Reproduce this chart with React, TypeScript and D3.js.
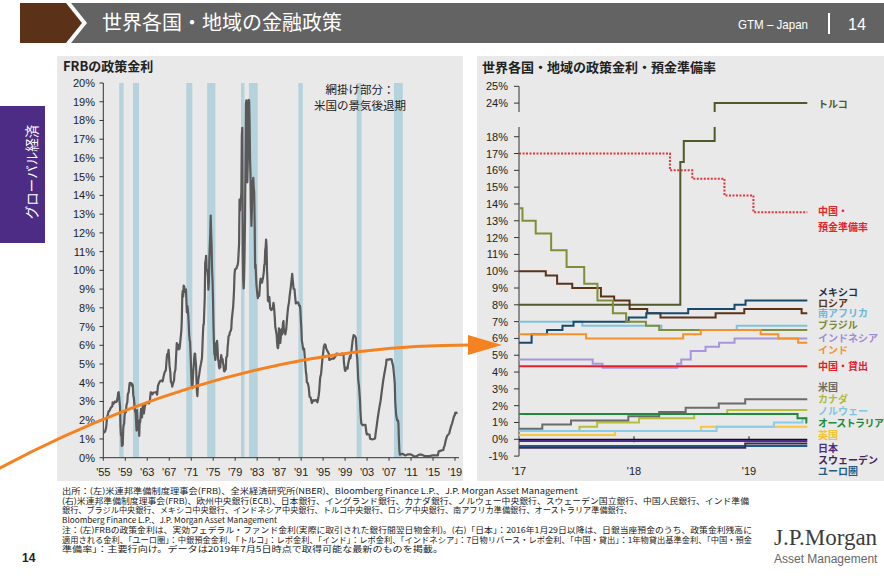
import * as d3 from "d3";

const SANS = "'Liberation Sans', Arial, 'Noto Sans CJK JP', sans-serif";
const JP = "'Noto Sans CJK JP', 'Liberation Sans', sans-serif";
const PANEL = "#e9e9e9";

// ---------- left: FRB policy rate (effective fed funds, %) [year, month, rate]
const ffr: [number, number, number][] = [
  [1955,1,1.39],[1955,3,1.35],[1955,5,1.43],[1955,7,1.68],[1955,8,1.96],[1955,9,2.18],[1955,11,2.35],[1955,12,2.48],
  [1956,2,2.5],[1956,4,2.62],[1956,6,2.71],[1956,8,2.73],[1956,9,2.95],[1956,11,2.88],[1956,12,2.94],
  [1957,2,3.0],[1957,4,2.96],[1957,6,3.0],[1957,8,3.24],[1957,9,3.47],[1957,10,3.5],[1957,11,3.28],[1957,12,2.98],
  [1958,1,2.72],[1958,2,1.67],[1958,3,1.2],[1958,4,1.26],[1958,5,0.63],[1958,6,0.93],[1958,7,0.68],[1958,8,1.53],[1958,9,1.76],[1958,10,1.8],[1958,11,2.27],[1958,12,2.42],
  [1959,2,2.43],[1959,3,2.8],[1959,5,2.96],[1959,6,3.39],[1959,8,3.5],[1959,9,3.76],[1959,10,3.98],[1959,12,3.99],
  [1960,2,3.97],[1960,3,3.84],[1960,4,3.92],[1960,5,3.85],[1960,6,3.32],[1960,7,3.23],[1960,8,2.98],[1960,9,2.6],[1960,10,2.47],[1960,11,2.44],[1960,12,1.98],
  [1961,1,1.45],[1961,2,2.54],[1961,3,2.02],[1961,4,1.49],[1961,5,1.98],[1961,6,1.73],[1961,7,1.17],[1961,8,2.0],[1961,9,1.88],[1961,10,2.26],[1961,11,2.61],[1961,12,2.33],
  [1962,1,2.15],[1962,3,2.85],[1962,5,2.36],[1962,7,2.71],[1962,9,2.9],[1962,11,2.94],
  [1963,1,2.92],[1963,4,2.9],[1963,6,2.99],[1963,8,3.49],[1963,10,3.48],[1963,12,3.38],
  [1964,2,3.48],[1964,5,3.48],[1964,8,3.5],[1964,10,3.36],[1964,12,3.85],
  [1965,2,3.98],[1965,5,4.1],[1965,8,4.12],[1965,10,4.07],[1965,12,4.32],
  [1966,1,4.42],[1966,3,4.6],[1966,5,4.65],[1966,7,5.3],[1966,8,5.53],[1966,9,5.4],[1966,11,5.76],[1966,12,5.4],
  [1967,1,4.94],[1967,3,4.53],[1967,4,4.05],[1967,6,3.98],[1967,7,3.79],[1967,9,3.99],[1967,11,4.12],[1967,12,4.51],
  [1968,2,4.71],[1968,4,5.66],[1968,5,6.12],[1968,6,6.07],[1968,8,6.03],[1968,9,5.78],[1968,11,5.82],[1968,12,6.02],
  [1969,1,6.3],[1969,3,6.79],[1969,4,7.41],[1969,5,8.67],[1969,6,8.9],[1969,7,8.61],[1969,8,9.19],[1969,9,9.15],[1969,11,8.85],[1969,12,8.97],
  [1970,1,8.98],[1970,3,7.76],[1970,4,8.1],[1970,5,7.95],[1970,6,7.61],[1970,7,7.21],[1970,8,6.61],[1970,9,6.29],[1970,10,6.2],[1970,11,5.6],[1970,12,4.9],
  [1971,1,4.14],[1971,2,3.72],[1971,3,3.71],[1971,4,4.16],[1971,5,4.63],[1971,6,4.91],[1971,7,5.31],[1971,8,5.56],[1971,9,5.55],[1971,10,5.2],[1971,11,4.91],[1971,12,4.14],
  [1972,1,3.5],[1972,2,3.29],[1972,3,3.83],[1972,4,4.17],[1972,6,4.46],[1972,8,4.8],[1972,10,5.04],[1972,12,5.33],
  [1973,1,5.94],[1973,2,6.58],[1973,3,7.09],[1973,4,7.12],[1973,5,7.84],[1973,6,8.49],[1973,7,10.4],[1973,8,10.5],[1973,9,10.78],[1973,10,10.01],[1973,11,10.03],[1973,12,9.95],
  [1974,1,9.65],[1974,2,8.97],[1974,3,9.35],[1974,4,10.51],[1974,5,11.31],[1974,6,11.93],[1974,7,12.92],[1974,8,12.01],[1974,9,11.34],[1974,10,10.06],[1974,11,9.45],[1974,12,8.53],
  [1975,1,7.13],[1975,2,6.24],[1975,3,5.54],[1975,4,5.49],[1975,5,5.22],[1975,6,5.55],[1975,7,6.1],[1975,8,6.14],[1975,9,6.24],[1975,10,5.82],[1975,11,5.22],[1975,12,5.2],
  [1976,1,4.87],[1976,2,4.77],[1976,3,4.84],[1976,4,4.82],[1976,5,5.29],[1976,6,5.48],[1976,7,5.31],[1976,8,5.29],[1976,9,5.25],[1976,10,5.02],[1976,11,4.95],[1976,12,4.65],
  [1977,1,4.61],[1977,3,4.69],[1977,4,4.73],[1977,5,5.35],[1977,6,5.39],[1977,7,5.42],[1977,8,5.9],[1977,9,6.14],[1977,10,6.47],[1977,12,6.56],
  [1978,1,6.7],[1978,3,6.79],[1978,4,6.89],[1978,5,7.36],[1978,6,7.6],[1978,7,7.81],[1978,8,8.04],[1978,9,8.45],[1978,10,8.96],[1978,11,9.76],[1978,12,10.03],
  [1979,1,10.07],[1979,3,10.09],[1979,5,10.24],[1979,6,10.29],[1979,7,10.47],[1979,8,10.94],[1979,9,11.43],[1979,10,13.77],[1979,11,13.18],[1979,12,13.78],
  [1980,1,13.82],[1980,2,14.13],[1980,3,17.19],[1980,4,17.61],[1980,5,10.98],[1980,6,9.47],[1980,7,9.03],[1980,8,9.61],[1980,9,10.87],[1980,10,12.81],[1980,11,15.85],[1980,12,18.9],
  [1981,1,19.08],[1981,2,15.93],[1981,3,14.7],[1981,4,15.72],[1981,5,18.52],[1981,6,19.1],[1981,7,19.04],[1981,8,17.82],[1981,9,15.87],[1981,10,15.08],[1981,11,13.31],[1981,12,12.37],
  [1982,1,13.22],[1982,2,14.78],[1982,3,14.68],[1982,4,14.94],[1982,5,14.45],[1982,6,14.15],[1982,7,12.59],[1982,8,10.12],[1982,9,10.31],[1982,10,9.71],[1982,11,9.2],[1982,12,8.95],
  [1983,1,8.68],[1983,2,8.51],[1983,3,8.77],[1983,5,8.63],[1983,6,8.98],[1983,7,9.37],[1983,8,9.56],[1983,10,9.48],[1983,11,9.34],[1983,12,9.47],
  [1984,1,9.56],[1984,3,9.91],[1984,4,10.29],[1984,5,10.32],[1984,6,11.06],[1984,7,11.23],[1984,8,11.64],[1984,9,11.3],[1984,10,9.99],[1984,11,9.43],[1984,12,8.38],
  [1985,1,8.35],[1985,2,8.5],[1985,3,8.58],[1985,4,8.27],[1985,5,7.97],[1985,7,7.88],[1985,9,7.92],[1985,11,8.05],[1985,12,8.27],
  [1986,1,8.14],[1986,3,7.48],[1986,4,6.99],[1986,5,6.85],[1986,7,6.56],[1986,8,6.17],[1986,9,5.89],[1986,10,5.85],[1986,11,6.04],[1986,12,6.91],
  [1987,1,6.43],[1987,3,6.13],[1987,4,6.37],[1987,5,6.85],[1987,7,6.58],[1987,9,7.22],[1987,10,7.29],[1987,11,6.69],[1987,12,6.77],
  [1988,1,6.83],[1988,2,6.58],[1988,4,6.87],[1988,6,7.51],[1988,8,8.01],[1988,10,8.3],[1988,12,8.76],
  [1989,2,9.12],[1989,3,9.36],[1989,5,9.81],[1989,6,9.53],[1989,8,9.02],[1989,10,8.99],[1989,12,8.45],
  [1990,1,8.23],[1990,3,8.28],[1990,6,8.29],[1990,8,8.13],[1990,10,8.11],[1990,11,7.81],[1990,12,7.31],
  [1991,1,6.91],[1991,2,6.25],[1991,3,6.12],[1991,5,5.78],[1991,7,5.82],[1991,9,5.22],[1991,11,4.56],[1991,12,4.43],
  [1992,1,4.03],[1992,3,3.98],[1992,5,3.76],[1992,7,3.25],[1992,9,3.22],[1992,12,2.92],
  [1993,3,3.07],[1993,6,3.04],[1993,9,3.09],[1993,12,2.96],
  [1994,1,3.05],[1994,3,3.34],[1994,4,3.56],[1994,6,4.25],[1994,8,4.47],[1994,9,4.73],[1994,11,5.29],[1994,12,5.45],
  [1995,2,5.92],[1995,4,6.05],[1995,6,6.0],[1995,7,5.85],[1995,9,5.74],[1995,12,5.6],
  [1996,1,5.56],[1996,2,5.22],[1996,6,5.27],[1996,9,5.3],[1996,12,5.29],
  [1997,3,5.39],[1997,6,5.56],[1997,9,5.54],[1997,12,5.5],
  [1998,3,5.49],[1998,6,5.56],[1998,9,5.51],[1998,10,5.07],[1998,12,4.68],
  [1999,1,4.63],[1999,3,4.81],[1999,6,4.76],[1999,7,4.99],[1999,9,5.22],[1999,11,5.42],[1999,12,5.3],
  [2000,1,5.45],[2000,3,5.85],[2000,5,6.27],[2000,7,6.54],[2000,9,6.52],[2000,12,6.4],
  [2001,1,5.98],[2001,2,5.49],[2001,3,5.31],[2001,4,4.8],[2001,5,4.21],[2001,7,3.77],[2001,9,3.07],[2001,10,2.49],[2001,11,2.09],[2001,12,1.82],
  [2002,3,1.73],[2002,6,1.75],[2002,9,1.75],[2002,11,1.34],[2002,12,1.24],
  [2003,3,1.25],[2003,6,1.22],[2003,7,1.01],[2003,12,0.98],
  [2004,3,1.0],[2004,6,1.03],[2004,7,1.26],[2004,9,1.61],[2004,12,2.16],
  [2005,3,2.63],[2005,6,3.04],[2005,9,3.62],[2005,12,4.16],
  [2006,3,4.59],[2006,6,4.99],[2006,7,5.24],[2006,12,5.24],
  [2007,3,5.26],[2007,6,5.25],[2007,8,5.02],[2007,9,4.94],[2007,10,4.76],[2007,12,4.24],
  [2008,1,3.94],[2008,2,2.98],[2008,3,2.61],[2008,4,2.28],[2008,6,2.0],[2008,8,2.0],[2008,9,1.81],[2008,10,0.97],[2008,11,0.39],[2008,12,0.16],
  [2009,6,0.21],[2009,12,0.12],[2010,6,0.18],[2010,12,0.18],[2011,6,0.09],[2011,12,0.07],
  [2012,6,0.16],[2012,12,0.16],[2013,6,0.09],[2013,12,0.09],[2014,6,0.1],[2014,12,0.12],
  [2015,6,0.13],[2015,11,0.12],[2015,12,0.24],[2016,1,0.34],[2016,6,0.38],[2016,11,0.41],[2016,12,0.54],
  [2017,2,0.66],[2017,4,0.9],[2017,7,1.15],[2017,12,1.3],
  [2018,1,1.41],[2018,4,1.69],[2018,6,1.82],[2018,7,1.91],[2018,10,2.19],[2018,12,2.27],
  [2019,1,2.4],[2019,3,2.41],[2019,5,2.38],[2019,6,2.38],
];

// US recessions as shaded in the picture (decimal years)
const recessions: [number, number][] = [
  [1957.9, 1958.7], [1960.4, 1961.5], [1970.1, 1971.2], [1973.9, 1975.4],
  [1980.06, 1980.7], [1981.5, 1983.1], [1990.5, 1991.3], [2001.1, 2002.0], [2007.9, 2009.5],
];
const leftYearTicks = d3.range(1955, 2020, 4);
const leftRateTicks = d3.range(0, 21);

// ---------- right: policy rates / RRR, step change points
type Step = [string, number];
const turkey: Step[] = [["2017-01-01", 8], ["2018-05-28", 16.5], ["2018-06-08", 17.75], ["2018-09-14", 24]];
const chinaRRR: Step[] = [["2017-01-01", 17], ["2018-04-25", 16], ["2018-07-05", 15.5], ["2018-10-15", 14.5], ["2019-01-15", 13.5]];
const mexico: Step[] = [["2017-01-01", 5.75], ["2017-02-10", 6.25], ["2017-03-31", 6.5], ["2017-05-19", 6.75], ["2017-06-23", 7.0], ["2017-12-15", 7.25], ["2018-02-09", 7.5], ["2018-06-22", 7.75], ["2018-11-16", 8.0], ["2018-12-21", 8.25]];
const russia: Step[] = [["2017-01-01", 10], ["2017-03-27", 9.75], ["2017-05-02", 9.25], ["2017-06-19", 9.0], ["2017-09-18", 8.5], ["2017-10-30", 8.25], ["2017-12-18", 7.75], ["2018-02-12", 7.5], ["2018-03-26", 7.25], ["2018-09-17", 7.5], ["2018-12-17", 7.75], ["2019-06-17", 7.5]];
const southAfrica: Step[] = [["2017-01-01", 7.0], ["2017-07-21", 6.75], ["2018-03-29", 6.5], ["2018-11-23", 6.75]];
const brazil: Step[] = [["2017-01-01", 13.75], ["2017-01-12", 13.0], ["2017-02-23", 12.25], ["2017-04-13", 11.25], ["2017-06-01", 10.25], ["2017-07-27", 9.25], ["2017-09-07", 8.25], ["2017-10-26", 7.5], ["2017-12-07", 7.0], ["2018-02-08", 6.75], ["2018-03-22", 6.5]];
const indonesia: Step[] = [["2017-01-01", 4.75], ["2017-08-23", 4.5], ["2017-09-23", 4.25], ["2018-05-18", 4.5], ["2018-05-31", 4.75], ["2018-06-30", 5.25], ["2018-08-16", 5.5], ["2018-09-28", 5.75], ["2018-11-16", 6.0]];
const india: Step[] = [["2017-01-01", 6.25], ["2017-08-02", 6.0], ["2018-06-06", 6.25], ["2018-08-01", 6.5], ["2019-02-07", 6.25], ["2019-04-04", 6.0], ["2019-06-06", 5.75]];
const chinaLoan: Step[] = [["2017-01-01", 4.35]];
const us: Step[] = [["2017-01-01", 0.625], ["2017-03-16", 0.875], ["2017-06-15", 1.125], ["2017-12-14", 1.375], ["2018-03-22", 1.625], ["2018-06-14", 1.875], ["2018-09-27", 2.125], ["2018-12-20", 2.375]];
const canada: Step[] = [["2017-01-01", 0.5], ["2017-07-12", 0.75], ["2017-09-06", 1.0], ["2018-01-17", 1.25], ["2018-07-11", 1.5], ["2018-10-24", 1.75]];
const uk: Step[] = [["2017-01-01", 0.25], ["2017-11-02", 0.5], ["2018-08-02", 0.75]];
const norway: Step[] = [["2017-01-01", 0.5], ["2018-09-20", 0.75], ["2019-03-21", 1.0], ["2019-06-20", 1.25]];
const australia: Step[] = [["2017-01-01", 1.5], ["2019-06-04", 1.25], ["2019-07-02", 1.0]];
const euro: Step[] = [["2017-01-01", -0.4]];
const sweden: Step[] = [["2017-01-01", -0.5], ["2018-12-20", -0.25]];
const japan: Step[] = [["2017-01-01", -0.1]];
const dataEnd = "2019-07-05";

const rightSeries = [
  { data: turkey, color: "#4f5a2b" },
  { data: chinaRRR, color: "#e0353b", dotted: true },
  { data: southAfrica, color: "#7fc2de" },
  { data: russia, color: "#5b3418" },
  { data: mexico, color: "#17496d" },
  { data: brazil, color: "#808e37" },
  { data: indonesia, color: "#a895dc" },
  { data: india, color: "#f3912b" },
  { data: chinaLoan, color: "#e6202b" },
  { data: canada, color: "#b8bf3b" },
  { data: us, color: "#6b6b6b" },
  { data: uk, color: "#f4c843" },
  { data: norway, color: "#8ccbe6" },
  { data: australia, color: "#1f8b3b" },
  { data: euro, color: "#1c5c8b" },
  { data: sweden, color: "#3f2958" },
  { data: japan, color: "#4b2c8a" },
];

const seriesLabels = [
  { text: "トルコ", color: "#4f5a2b" },
  { text: "中国・", color: "#e0262e" },
  { text: "預金準備率", color: "#e0262e" },
  { text: "メキシコ", color: "#1b2f4f" },
  { text: "ロシア", color: "#5b3418" },
  { text: "南アフリカ", color: "#6cb8da" },
  { text: "ブラジル", color: "#7b8a33" },
  { text: "インドネシア", color: "#a08cd8" },
  { text: "インド", color: "#f3912b" },
  { text: "中国・貸出", color: "#e0202b" },
  { text: "米国", color: "#6b6b6b" },
  { text: "カナダ", color: "#b0b838" },
  { text: "ノルウェー", color: "#80c4e2" },
  { text: "オーストラリア", color: "#1f8b3b" },
  { text: "英国", color: "#f2c230" },
  { text: "日本", color: "#4b2c8a" },
  { text: "スウェーデン", color: "#3f2958" },
  { text: "ユーロ圏", color: "#1c5c8b" },
];
// label slots (pixel rows next to the line ends)
const labelRows = [104, 211.5, 227, 292, 303, 313.5, 325, 338, 350, 366.5, 387, 399, 411.5, 423.5, 435, 448, 460.5, 471.5];

const rightRateTicks = [...d3.range(-1, 19), 24, 25];
const rightYears = [2017, 2018, 2019];

const notes = [
  "出所：(左)米連邦準備制度理事会(FRB)、全米経済研究所(NBER)、Bloomberg Finance L.P.、J.P. Morgan Asset Management",
  "(右)米連邦準備制度理事会(FRB)、欧州中央銀行(ECB)、日本銀行、イングランド銀行、カナダ銀行、ノルウェー中央銀行、スウェーデン国立銀行、中国人民銀行、インド準備",
  "銀行、ブラジル中央銀行、メキシコ中央銀行、インドネシア中央銀行、トルコ中央銀行、ロシア中央銀行、南アフリカ準備銀行、オーストラリア準備銀行、",
  "Bloomberg Finance L.P.、J.P. Morgan Asset Management",
  "注：(左)FRBの政策金利は、実効フェデラル・ファンド金利(実際に取引された銀行間翌日物金利)。(右)「日本」：2016年1月29日以降は、日銀当座預金のうち、政策金利残高に",
  "適用される金利、「ユーロ圏」：中銀預金金利、「トルコ」：レポ金利、「インド」：レポ金利、「インドネシア」：7日物リバース・レポ金利、「中国・貸出」：1年物貸出基準金利、「中国・預金",
  "準備率」：主要行向け。データは2019年7月5日時点で取得可能な最新のものを掲載。",
];
const noteWidths = [516, 687, 570, 0, 690, 690, 381];

const parse = d3.timeParse("%Y-%m-%d");

const App = () => {
  // left scales
  const xL = d3.scaleLinear().domain([1955, 2019]).range([103.3, 455]);
  const yL = d3.scaleLinear().domain([0, 20]).range([457.7, 83]);
  const ffrLine = d3
    .line<[number, number, number]>()
    .x((d) => xL(d[0] + (d[1] - 0.5) / 12))
    .y((d) => yL(d[2]));

  // right scales (axis broken between 18% and 24%)
  const xR = d3.scaleTime().domain([parse("2017-01-01")!, parse("2019-01-01")!]).range([519, 749]);
  const yR = d3.scaleLinear().domain([-1, 21]).range([456.1, 86.3]);
  const brk = (v: number) => (v >= 22 ? v - 4 : v);
  const stepLine = d3
    .line<[Date, number]>()
    .x((d) => xR(d[0]))
    .y((d) => yR(brk(d[1])))
    .curve(d3.curveStepAfter);
  const endDate = parse(dataEnd)!;

  return (
    <svg width={884} height={585} style={{ position: "absolute", left: 0, top: 0, background: "#fff" }} fontFamily={SANS}>
      {/* header */}
      <polygon points="20,3 66,3 82,23 66,43 20,43" fill="#5b3218" />
      <polygon points="71,3 884,3 884,43 71,43 87,23" fill="#636363" />
      <text x={102} y={30} fill="#fff" fontSize={20} fontFamily={JP}>世界各国・地域の金融政策</text>
      <text x={738} y={29} fill="#fff" fontSize={13} textLength={70} lengthAdjust="spacingAndGlyphs">GTM – Japan</text>
      <line x1={829} x2={829} y1={13} y2={34} stroke="#fff" strokeWidth={2} />
      <text x={848} y={30} fill="#fff" fontSize={17} textLength={18} lengthAdjust="spacingAndGlyphs">14</text>

      {/* side tab */}
      <rect x={0} y={106} width={45} height={137} fill="#4c2c84" />
      <text transform="translate(37,172) rotate(-90)" textAnchor="middle" fill="#fff" fontSize={13.5} fontFamily={JP}>グローバル経済</text>

      {/* panels */}
      <rect x={57} y={56} width={406} height={425} fill={PANEL} />
      <rect x={477} y={56} width={407} height={425} fill={PANEL} />

      {/* ---------- left chart ---------- */}
      <text x={63} y={71} fontSize={13} fontWeight="bold" fill="#222" fontFamily={JP}>FRBの政策金利</text>
      {recessions.map(([a, b], i) => (
        <rect key={i} x={xL(a)} y={yL(20)} width={xL(b) - xL(a)} height={yL(0) - yL(20)} fill="#b5d3dc" />
      ))}
      <text x={360} y={94} textAnchor="middle" fontSize={11.5} fill="#222" fontFamily={JP}>網掛け部分：</text>
      <text x={360} y={110} textAnchor="middle" fontSize={11.5} fill="#222" fontFamily={JP}>米国の景気後退期</text>
      <line x1={xL(1955)} x2={xL(1955)} y1={yL(20)} y2={yL(0)} stroke="#333" />
      <line x1={xL(1955)} x2={459} y1={yL(0)} y2={yL(0)} stroke="#333" />
      {leftRateTicks.map((t) => (
        <g key={t}>
          <line x1={99.5} x2={xL(1955)} y1={yL(t)} y2={yL(t)} stroke="#333" />
          <text x={95} y={yL(t) + 4} textAnchor="end" fontSize={11} fill="#222">{`${t}%`}</text>
        </g>
      ))}
      {leftYearTicks.map((t) => (
        <g key={t}>
          <line x1={xL(t)} x2={xL(t)} y1={yL(0)} y2={yL(0) + 3} stroke="#333" />
          <text x={xL(t)} y={476} textAnchor="middle" fontSize={11} fill="#222">{`'${String(t).slice(2)}`}</text>
        </g>
      ))}
      <path d={ffrLine(ffr) || ""} fill="none" stroke="#595959" strokeWidth={2.2} strokeLinejoin="round" />

      {/* ---------- right chart ---------- */}
      <text x={482} y={72} fontSize={13} fontWeight="bold" fill="#222" fontFamily={JP}>世界各国・地域の政策金利・預金準備率</text>
      <line x1={519} x2={519} y1={yR(brk(25))} y2={112} stroke="#333" />
      <line x1={519} x2={519} y1={127} y2={yR(-1)} stroke="#333" />
      {rightRateTicks.map((t) => (
        <g key={t}>
          <line x1={514} x2={519} y1={yR(brk(t))} y2={yR(brk(t))} stroke="#333" />
          <text x={508} y={yR(brk(t)) + 4} textAnchor="end" fontSize={11} fill="#222">{`${t}%`}</text>
        </g>
      ))}
      <line x1={519} x2={xR(endDate)} y1={yR(0)} y2={yR(0)} stroke="#111" strokeWidth={1.3} />
      {rightYears.map((y) => {
        const x = xR(parse(`${y}-01-01`)!);
        return (
          <g key={y}>
            {y > 2017 && <line x1={x} x2={x} y1={yR(0) - 3} y2={yR(0) + 3} stroke="#111" />}
            <text x={x} y={475} textAnchor="middle" fontSize={11} fill="#222">{`'${String(y).slice(2)}`}</text>
          </g>
        );
      })}
      {rightSeries.map((s, i) => {
        const pts: [Date, number][] = s.data.map((d) => [parse(d[0])!, d[1]]);
        pts.push([endDate, s.data[s.data.length - 1][1]]);
        return (
          <path
            key={i}
            d={stepLine(pts) || ""}
            fill="none"
            stroke={s.color}
            strokeWidth={2}
            strokeDasharray={s.dotted ? "2,1.5" : undefined}
          />
        );
      })}
      {/* axis break */}
      <rect x={505} y={112} width={320} height={15} fill={PANEL} />
      {seriesLabels.map((l, i) => (
        <text
          key={i}
          x={818}
          y={labelRows[i] + 3.6}
          fontSize={10}
          fontWeight="bold"
          fill={l.color}
          fontFamily={JP}
          letterSpacing={l.text.length > 6 ? -0.6 : 0}
        >
          {l.text}
        </text>
      ))}

      {/* orange arrow */}
      <path d="M -2 469 Q 230 345 470 345" fill="none" stroke="#f58220" strokeWidth={3} />
      <polygon points="468,335 502,345 468,355" fill="#f58220" />

      {/* footer */}
      {notes.map((n, i) => (
        <text
          key={i}
          x={62}
          y={494 + i * 9.7}
          fontSize={8.2}
          fill="#222"
          fontFamily={JP}
          textLength={noteWidths[i] || undefined}
          lengthAdjust="spacingAndGlyphs"
        >
          {n}
        </text>
      ))}
      <text x={22} y={562} fontSize={12} fontWeight="bold" fill="#222">14</text>
      <text x={774} y={545} fontSize={23} fill="#3c3c3c" fontFamily="'Liberation Serif', 'DejaVu Serif', serif">J.P.Morgan</text>
      <text x={774} y={563} fontSize={12} fill="#666">Asset Management</text>
    </svg>
  );
};

export default App;
